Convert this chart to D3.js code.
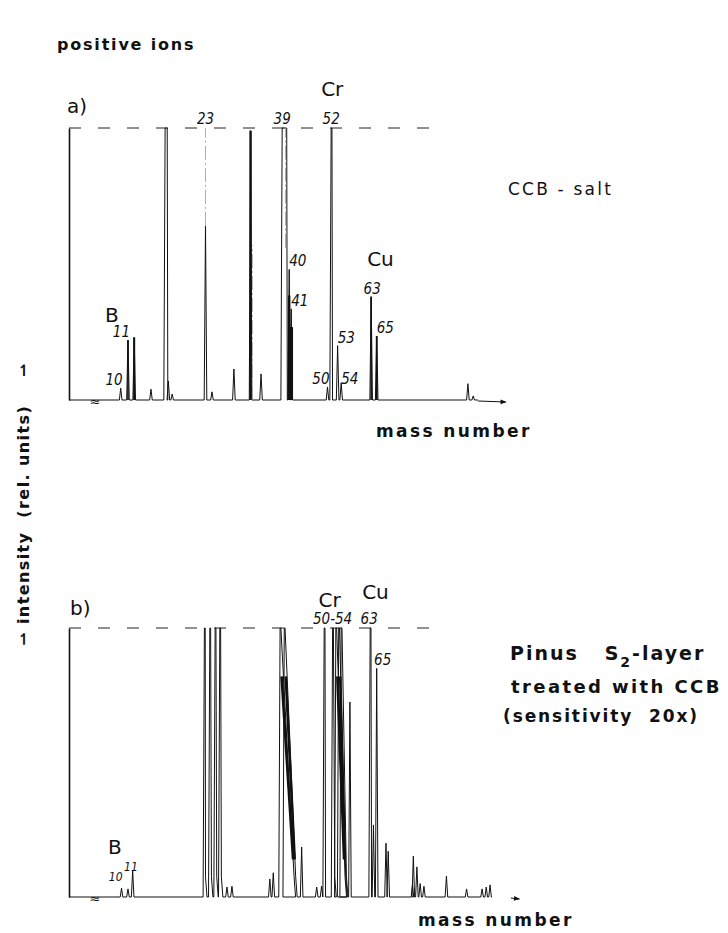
<!DOCTYPE html>
<html>
<head>
<meta charset="utf-8">
<script src="https://cdn.jsdelivr.net/npm/d3@7/dist/d3.min.js"></script>
<style>
	body { margin: 0; background: #fff; }
	text { fill: #111; }
	.big { font-family: "DejaVu Sans", sans-serif; font-weight: bold; }
	.num { font-family: "DejaVu Sans Condensed", "DejaVu Sans", sans-serif; font-style: oblique; font-size: 15px; }
	.elem { font-family: "DejaVu Sans", sans-serif; font-size: 20px; }
</style>
</head>
<body>
<div id="chart"></div>
<script>
// a) CCB - salt : peak mass numbers and heights (1 = full scale, dashed line)
var massA   = [10, 10.9, 11.7, 14, 16.1, 16.6, 17.2, 22.9, 24.1, 28.4, 31.9, 34.2, 39.1, 40.8, 41.3, 50.7, 51.7, 53.5, 54.5, 63.3, 65, 96.2, 98.2];
var heightA = [0.044, 0.22, 0.23, 0.04, 1, 0.07, 0.022, 0.64, 0.03, 0.114, 0.99, 0.096, 1, 0.48, 0.335, 0.048, 1, 0.2, 0.063, 0.38, 0.235, 0.06, 0.015];
var plateauA = [0, 0, 0, 0, 0.2, 0, 0, 0, 0, 0, 0, 0, 0.9, 0, 0, 0, 0, 0, 0, 0, 0, 0, 0];
// faint parts of the trace (fast deflections)
var ghostMassA = [22.9, 32.3, 39.9];
var ghostLowA  = [0.64, 0, 0.56];
var ghostHighA = [1, 0.57, 1];

// b) Pinus S2-layer treated with CCB (sensitivity 20x)
var massB   = [10.1, 10.9, 11.5, 22.7, 23.7, 24.7, 25.6, 27.0, 28.0, 36.2, 37.0, 38.6, 39.6, 43.9, 47.8, 49.1, 49.8, 52.1, 53.0, 53.8, 54.5, 57.0, 63.0, 64.0, 65.0, 67.9, 68.6, 76.5, 76.8, 78.0, 79.1, 80.4, 88.3, 95.7, 101.6, 103.2, 104.7];
var heightB = [0.033, 0.03, 0.097, 1, 1, 1, 1, 0.037, 0.04, 0.067, 0.09, 1, 1, 0.186, 0.037, 0.04, 1, 1, 1, 1, 1, 0.725, 1, 0.268, 0.85, 0.2, 0.17, 0.045, 0.152, 0.112, 0.05, 0.04, 0.078, 0.03, 0.03, 0.037, 0.045];
var tailB   = [0, 0, 0, 0.2, 0.3, 0.3, 0.3, 0, 0, 0, 0, 3.4, 2.8, 0, 0, 0, 0, 0.6, 2.6, 2.0, 1.5, 0, 0, 0, 0, 0, 0, 0, 0, 0, 0, 0, 0, 0, 0, 0, 0];

// peak labels
var labelsA = [["10", 10, 0.045], ["11", 10.9, 0.22], ["23", 22.9, 1], ["39", 39.1, 1], ["52", 51.7, 1],
	["40", 40.8, 0.48], ["41", 41.3, 0.335], ["50", 50.7, 0.048], ["53", 53.5, 0.2], ["54", 54.5, 0.048], ["63", 63.3, 0.38], ["65", 65, 0.235]];
var labelsB = [["10", 10.1, 0.05], ["11", 10.9, 0.085], ["50-54", 52.1, 1], ["63", 63.0, 1], ["65", 65, 0.85]];

var width = 728, height = 933;

var svg = d3.select("#chart").append("svg")
	.attr("width", width)
	.attr("height", height);

var x = d3.scalePow().exponent(0.5)
	.domain([10, 65])
	.range([120.7, 376.7]);

var yA = d3.scaleLinear().domain([0, 1]).range([400, 128]);
var yB = d3.scaleLinear().domain([0, 1]).range([897, 628]);

var line = d3.line();

svg.append("defs").append("marker")
	.attr("id", "arrow")
	.attr("viewBox", "0 0 10 10")
	.attr("refX", 9).attr("refY", 5)
	.attr("markerWidth", 12).attr("markerHeight", 6)
	.attr("markerUnits", "userSpaceOnUse")
	.attr("orient", "auto")
	.append("path").attr("d", "M0,1L10,5L0,9Z").attr("fill", "#111");

function peakPoints(m, h, plateau, tail, y) {
	var xm = x(m), top = y(Math.min(h, 1)), pts = [];
	pts.push([xm - 1.3, y(0)]);
	pts.push([xm, top]);
	if (h >= 1) {
		var xe = x(m + plateau) + 0.8;
		pts.push([xe, top]);
		if (tail > 0) {
			pts.push([x(m + plateau + tail), y(0.075)]);
			pts.push([x(m + plateau + tail) + 1.5, y(0)]);
		} else {
			pts.push([xe + 0.6, y(0)]);
		}
	} else {
		pts.push([xm + 1.3, y(0)]);
	}
	return pts;
}

function drawPanel(masses, heights, plateaus, tails, y, endMass, arrowFrom, arrowTo) {
	var g = svg.append("g");
	var pts = [[x.range()[0] - 51.7, y(0)]];
	masses.forEach(function(m, i) {
		pts = pts.concat(peakPoints(m, heights[i], plateaus ? plateaus[i] : 0, tails ? tails[i] : 0, y));
	});
	pts.push([x(endMass), y(0)]);

	g.append("path")
		.attr("d", line(pts))
		.attr("fill", "none")
		.attr("stroke", "#111")
		.attr("stroke-width", 1)
		.attr("stroke-linejoin", "round");

	// vertical axis, no ticks
	g.append("g")
		.attr("transform", "translate(69,0)")
		.call(d3.axisLeft(y).tickValues([]).tickSizeOuter(0))
		.select(".domain").attr("stroke", "#111").attr("stroke-width", 1.6);

	// full scale line
	g.append("line")
		.attr("x1", 69).attr("x2", x(88))
		.attr("y1", y(1)).attr("y2", y(1))
		.attr("stroke", "#222").attr("stroke-width", 1)
		.attr("stroke-dasharray", "12,17");

	// arrow of the mass axis
	g.append("line")
		.attr("x1", x(arrowFrom)).attr("x2", x(arrowTo))
		.attr("y1", y(0) + 1).attr("y2", y(0) + 2)
		.attr("stroke", "#111").attr("stroke-width", 1)
		.attr("marker-end", "url(#arrow)");

	// axis break mark
	g.append("text")
		.attr("x", 95).attr("y", y(0) + 6)
		.attr("text-anchor", "middle")
		.style("font", "13px 'DejaVu Sans'")
		.text("≈");
	return g;
}

var ga = drawPanel(massA, heightA, plateauA, null, yA, 100, 100, 111);
var gb = drawPanel(massB, heightB, null, tailB, yB, 105.5, 113, 116.5);

// faint trace parts
ghostMassA.forEach(function(m, i) {
	ga.append("line")
		.attr("x1", x(m)).attr("x2", x(m))
		.attr("y1", yA(ghostLowA[i])).attr("y2", yA(ghostHighA[i]))
		.attr("stroke", "#999").attr("stroke-width", 0.8)
		.attr("stroke-dasharray", "14,3,2,3");
});

// dark, heavily exposed peaks
var heavyA = [10.9, 11.7, 31.9, 40.8, 41.3, 63.3, 65];
var heavyWidthA = [1.6, 2, 2.4, 2.4, 3.6, 1.6, 1.8];
heavyA.forEach(function(m, i) {
	var k = massA.indexOf(m), h = Math.min(heightA[k], 1);
	ga.append("line")
		.attr("x1", x(m)).attr("x2", x(m))
		.attr("y1", yA(0)).attr("y2", yA(m > 40 && m < 42 ? h * 0.8 : h))
		.attr("stroke", "#111").attr("stroke-width", heavyWidthA[i]);
});

var heavyB = [38.6, 39.6, 53.0, 53.8];
heavyB.forEach(function(m) {
	var k = massB.indexOf(m);
	gb.append("path")
		.attr("d", line([[x(m) + 1.5, yB(0.82)], [x(m + tailB[k]) - 1, yB(0.14)]]))
		.attr("stroke", "#111").attr("stroke-width", 2.6);
});

// peak labels
function drawLabels(g, labels, y, big) {
	g.selectAll(null).data(labels).enter().append("text")
		.attr("class", "num")
		.attr("x", function(d) { return x(d[1]); })
		.attr("y", function(d) { return d[2] >= 1 ? y(1) - 4 : y(d[2]) - 3; })
		.attr("text-anchor", function(d) { return d[2] >= 1 ? "middle" : "start"; })
		.style("font-size", function(d) { return d[2] < 0.1 && !big ? "12px" : "15px"; })
		.text(function(d) { return d[0]; });
}
drawLabels(ga, labelsA, yA, true);
drawLabels(gb, labelsB, yB, false);

// fine placement of a few labels next to their peaks
ga.selectAll("text.num").filter(function(d) { return d[0] === "10" || d[0] === "11" || d[0] === "50"; })
	.attr("text-anchor", "end").attr("dx", 2);
gb.selectAll("text.num").filter(function(d) { return d[0] === "10"; })
	.attr("text-anchor", "end").attr("dx", 1);
gb.selectAll("text.num").filter(function(d) { return d[0] === "11"; })
	.attr("text-anchor", "middle").attr("dx", 3);
gb.selectAll("text.num").filter(function(d) { return d[0] === "63"; }).attr("dx", -1);
gb.selectAll("text.num").filter(function(d) { return d[0] === "65"; }).attr("text-anchor", "middle").attr("dx", 6);
ga.selectAll("text.num").filter(function(d) { return d[0] === "63"; }).attr("text-anchor", "middle").attr("dx", 1);

// element symbols
function elem(text, xx, yy) {
	svg.append("text").attr("class", "elem").attr("x", xx).attr("y", yy).text(text);
}
elem("Cr", x(51.7) - 10, 96);
elem("Cu", x(63.3) - 4, 266);
elem("B", 105, 322);
elem("B", 108, 854);
elem("Cr", x(52.1) - 14, 607);
elem("Cu", x(63.0) - 8, 599);

svg.append("text").attr("class", "elem").attr("x", 67).attr("y", 113).text("a)");
svg.append("text").attr("class", "elem").attr("x", 70).attr("y", 615).text("b)");

// titles
svg.append("text").attr("class", "big")
	.attr("x", 57).attr("y", 50)
	.style("font-size", "16px").style("letter-spacing", "1.8px")
	.text("positive ions");

svg.append("text").attr("class", "big")
	.attr("x", 508).attr("y", 195)
	.style("font-size", "17px").style("font-weight", "normal").style("letter-spacing", "2.2px")
	.text("CCB - salt");

var pinus = svg.append("text").attr("class", "big")
	.attr("x", 510).attr("y", 660)
	.style("font-size", "19px").style("letter-spacing", "2px")
	.style("white-space", "pre");
pinus.append("tspan").text("Pinus   S");
pinus.append("tspan").attr("dy", 7).style("font-size", "14px").text("2");
pinus.append("tspan").attr("dy", -7).text("-layer");

svg.append("text").attr("class", "big")
	.attr("x", 511).attr("y", 693)
	.style("font-size", "18px").style("letter-spacing", "2.4px")
	.text("treated with CCB");

svg.append("text").attr("class", "big")
	.attr("x", 503).attr("y", 722)
	.style("font-size", "17px").style("letter-spacing", "1.9px")
	.style("white-space", "pre")
	.text("(sensitivity  20x)");

svg.append("text").attr("class", "big")
	.attr("x", 376).attr("y", 437)
	.style("font-size", "17px").style("letter-spacing", "2.4px")
	.text("mass number");

svg.append("text").attr("class", "big")
	.attr("x", 418).attr("y", 926)
	.style("font-size", "17px").style("letter-spacing", "2.4px")
	.text("mass number");

svg.append("text").attr("class", "big")
	.attr("transform", "translate(29,504) rotate(-90)")
	.attr("text-anchor", "middle")
	.style("font-size", "16px").style("letter-spacing", "1.4px")
	.style("white-space", "pre")
	.text("⇀ intensity  (rel. units)    ⇀");
</script>
</body>
</html>
